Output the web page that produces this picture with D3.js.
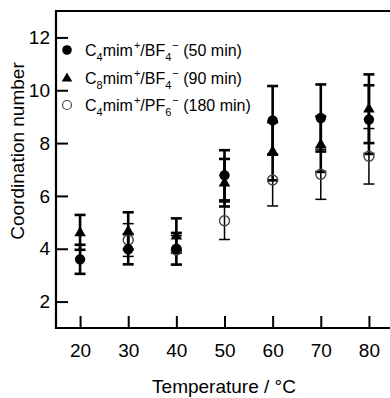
<!DOCTYPE html>
<html>
<head>
<meta charset="utf-8">
<script src="https://cdn.jsdelivr.net/npm/d3@7"></script>
<style>
  body { margin: 0; background: #fff; }
  text { font-family: "Liberation Sans", Arial, sans-serif; fill: #000; }
</style>
</head>
<body>
<svg width="390" height="398"></svg>
<script>
// temperatures (°C)
var temps = [20, 30, 40, 50, 60, 70, 80];

// C4mim+/BF4- (50 min), filled circles
var c4bf4 = [3.6, 3.98, 4.0, 6.78, 8.86, 8.95, 8.89];
var c4bf4Err = [0.55, 0.57, 0.6, 0.95, 1.3, 1.27, 1.3];

// C8mim+/BF4- (90 min), triangles
var c8bf4 = [4.62, 4.68, 4.5, 6.5, 7.69, 7.96, 9.3];
var c8bf4Err = [0.66, 0.7, 0.65, 0.9, 1.1, 1.05, 1.3];

// C4mim+/PF6- (180 min), open circles (none at 20)
var c4pf6 = [null, 4.33, 3.95, 5.06, 6.6, 6.82, 7.5];
var c4pf6Err = [null, 0.62, 0.55, 0.71, 0.98, 0.95, 1.05];

var xTicks = [20, 30, 40, 50, 60, 70, 80];
var yTicks = [2, 4, 6, 8, 10, 12];

var svg = d3.select("svg");
var mLeft = 56, mRight = 393, mTop = 11, mBottom = 328;

var x = d3.scaleLinear().domain([15, 85]).range([mLeft, mRight]);
var y = d3.scaleLinear().domain([1, 13]).range([mBottom, mTop]);

// frame lines (left, top)
svg.append("line").attr("x1", mLeft).attr("x2", mLeft).attr("y1", mTop - 1).attr("y2", mBottom + 1)
    .attr("stroke", "#000").attr("stroke-width", 2.2);
svg.append("line").attr("x1", mLeft - 1).attr("x2", 392).attr("y1", mTop).attr("y2", mTop)
    .attr("stroke", "#000").attr("stroke-width", 2.2);

var yAxis = d3.axisLeft(y).tickValues(yTicks).tickSizeInner(-12).tickSizeOuter(0).tickPadding(18);
var gy = svg.append("g").attr("transform", "translate(" + mLeft + ",0)").call(yAxis);
gy.select(".domain").remove();
gy.selectAll(".tick line").attr("stroke-width", 2);
gy.selectAll(".tick text").attr("font-size", 19).attr("x", -6)
    .style("font-family", "Liberation Sans, Arial, sans-serif");

var xAxis = d3.axisBottom(x).tickValues(xTicks).tickSizeInner(-12).tickSizeOuter(0).tickPadding(16);
var gx = svg.append("g").attr("transform", "translate(0," + mBottom + ")").call(xAxis);
gx.select(".domain").remove();
gx.selectAll(".tick line").attr("stroke-width", 2);
gx.selectAll(".tick text").attr("font-size", 19)
    .style("font-family", "Liberation Sans, Arial, sans-serif");
svg.append("line").attr("x1", mLeft - 1).attr("x2", 392).attr("y1", mBottom).attr("y2", mBottom)
    .attr("stroke", "#000").attr("stroke-width", 2.2);

// axis titles
svg.append("text").attr("x", 224).attr("y", 393).attr("text-anchor", "middle")
    .attr("font-size", 19).text("Temperature / °C");
svg.append("text").attr("transform", "translate(24,151) rotate(-90)").attr("text-anchor", "middle")
    .attr("font-size", 19).text("Coordination number");

function rows(vals, errs) {
    return temps.map(function(t, i) { return { t: t, v: vals[i], e: errs[i] }; })
        .filter(function(d) { return d.v !== null; });
}

function errorBars(data, width) {
    var g = svg.append("g").attr("stroke", "#000").attr("stroke-width", width);
    var cap = 5.5;
    data.forEach(function(d) {
        var cx = x(d.t);
        g.append("line").attr("x1", cx).attr("x2", cx).attr("y1", y(d.v - d.e)).attr("y2", y(d.v + d.e));
        g.append("line").attr("x1", cx - cap).attr("x2", cx + cap).attr("y1", y(d.v - d.e)).attr("y2", y(d.v - d.e));
        g.append("line").attr("x1", cx - cap).attr("x2", cx + cap).attr("y1", y(d.v + d.e)).attr("y2", y(d.v + d.e));
    });
}

var dFilled = rows(c4bf4, c4bf4Err);
var dTri = rows(c8bf4, c8bf4Err);
var dOpen = rows(c4pf6, c4pf6Err);

errorBars(dOpen, 1.5);
errorBars(dTri, 2.6);
errorBars(dFilled, 2.6);

var tri = d3.symbol().type(d3.symbolTriangle).size(58);

svg.append("g").selectAll("circle").data(dOpen).enter().append("circle")
    .attr("cx", d => x(d.t)).attr("cy", d => y(d.v)).attr("r", 5)
    .attr("fill", "none").attr("stroke", "#444").attr("stroke-width", 1.4);
svg.append("g").selectAll("path").data(dTri).enter().append("path")
    .attr("d", tri).attr("transform", d => "translate(" + x(d.t) + "," + (y(d.v) + 0.5) + ")")
    .attr("fill", "#000");
svg.append("g").selectAll("circle").data(dFilled).enter().append("circle")
    .attr("cx", d => x(d.t)).attr("cy", d => y(d.v)).attr("r", 5.2)
    .attr("fill", "#000");

// legend
var legendRows = [
    { y: 50, sym: "filled", parts: [["C", 0], ["4", 1], ["mim", 0], ["+", 2], ["/BF", 0], ["4", 1], ["−", 2], [" (50 min)", 0]] },
    { y: 78, sym: "tri", parts: [["C", 0], ["8", 1], ["mim", 0], ["+", 2], ["/BF", 0], ["4", 1], ["−", 2], [" (90 min)", 0]] },
    { y: 105, sym: "open", parts: [["C", 0], ["4", 1], ["mim", 0], ["+", 2], ["/PF", 0], ["6", 1], ["−", 2], [" (180 min)", 0]] }
];
var lg = svg.append("g");
legendRows.forEach(function(r) {
    if (r.sym === "filled") {
        lg.append("circle").attr("cx", 67).attr("cy", r.y).attr("r", 4.8).attr("fill", "#000");
    } else if (r.sym === "tri") {
        lg.append("path").attr("d", d3.symbol().type(d3.symbolTriangle).size(48))
            .attr("transform", "translate(67," + (r.y + 0.5) + ")").attr("fill", "#000");
    } else {
        lg.append("circle").attr("cx", 67).attr("cy", r.y).attr("r", 4.5)
            .attr("fill", "none").attr("stroke", "#444").attr("stroke-width", 1.2);
    }
    var t = lg.append("text").attr("x", 85).attr("y", r.y + 5.5).attr("font-size", 16);
    var prev = 0;
    r.parts.forEach(function(p) {
        var shift = p[1] === 1 ? 5 : (p[1] === 2 ? -7 : 0);
        var ts = t.append("tspan").text(p[0]).attr("dy", shift - prev);
        if (p[1] !== 0) ts.attr("font-size", 11);
        if (p[1] === 2) ts.attr("dx", 1);
        prev = shift;
    });
});
</script>
</body>
</html>
